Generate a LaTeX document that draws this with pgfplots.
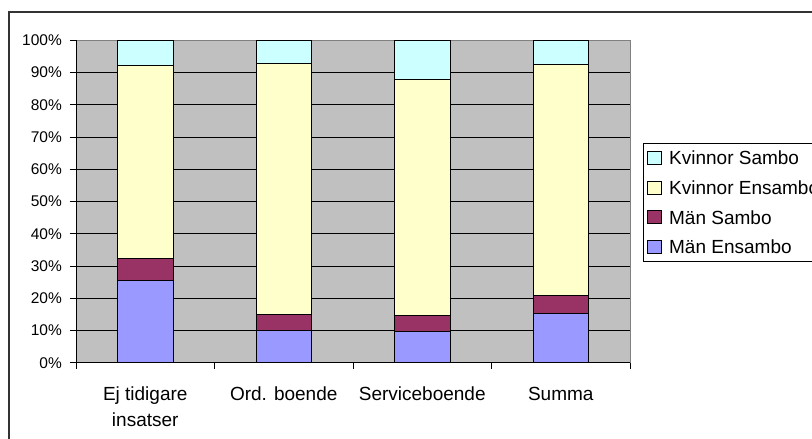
\documentclass[border=0pt]{standalone}
\usepackage{pgfplots}
\pgfplotsset{compat=1.18}
\usepackage{fontspec}
\setmainfont{Liberation Sans}
\definecolor{me}{HTML}{9999FF}
\definecolor{ms}{HTML}{993366}
\definecolor{ke}{HTML}{FFFFCC}
\definecolor{ks}{HTML}{CCFFFF}
\definecolor{bgc}{HTML}{C0C0C0}
\begin{document}
\begin{tikzpicture}[x=1pt,y=1pt]
\draw[line width=1.5pt, color=black!80] (9,-20) -- (9,427) -- (840,427);
\begin{axis}[
  at={(76pt,76.3pt)}, anchor=south west,
  scale only axis, width=554pt, height=322.4pt,
  ybar stacked, bar width=0.4,
  xmin=-0.5, xmax=3.5, ymin=0, ymax=100,
  axis background/.style={fill=bgc},
  axis line style={draw=black!50, line width=0.8pt},
  tick align=outside, major tick length=6pt,
  tick style={black, line width=0.8pt},
  xtick={-0.5,0.5,1.5,2.5,3.5}, xticklabels={},
  xtick pos=bottom, ytick pos=left,
  extra x ticks={0,1,2,3},
  extra x tick labels={{Ej tidigare\\insatser},{Ord. boende},{Serviceboende},{Summa}},
  extra x tick style={major tick length=0pt, xticklabel style={align=center, anchor=north, inner sep=0pt, yshift=-24pt, font=\fontsize{19}{26}\selectfont}},
  ytick={0,10,...,100},
  yticklabels={0\%,10\%,20\%,30\%,40\%,50\%,60\%,70\%,80\%,90\%,100\%},
  yticklabel style={font=\fontsize{15.5}{18}\selectfont, inner sep=0pt, xshift=-8pt},
  ymajorgrids, major grid style={black, line width=0.8pt},
  every axis plot/.append style={draw=black, line width=0.8pt},
  legend image code/.code={\draw[#1, draw=black, line width=0.7pt] (0pt,-6.5pt) rectangle (14pt,6.5pt); \path (17.5pt,0pt);},
  reverse legend, legend cell align=left,
  legend style={at={(1.0235,0.6824)}, anchor=north west, draw=black, line width=0.8pt, fill=white,
    font=\fontsize{19}{21}\selectfont, inner xsep=4pt, inner ysep=3.7pt, row sep=7.7pt,
    nodes={inner sep=0pt, text height=18pt, text depth=4pt, inner xsep=3.5pt}},
  extra description/.code={\draw[black, line width=0.8pt] (axis description cs:0,1) -- (axis description cs:0,0) -- (axis description cs:1,0);},
]
\addplot[fill=me] coordinates {(0,25.6) (1,10.0) (2,9.6) (3,15.3)};
\addlegendentry{Män Ensambo}
\addplot[fill=ms] coordinates {(0,6.8) (1,5.0) (2,5.1) (3,5.6)};
\addlegendentry{Män Sambo}
\addplot[fill=ke] coordinates {(0,59.7) (1,77.9) (2,73.1) (3,71.7)};
\addlegendentry{Kvinnor Ensambo}
\addplot[fill=ks] coordinates {(0,7.9) (1,7.1) (2,12.2) (3,7.4)};
\addlegendentry{Kvinnor Sambo}
\end{axis}
\pgfresetboundingbox
\useasboundingbox (0,0) rectangle (812,439);
\end{tikzpicture}
\end{document}
